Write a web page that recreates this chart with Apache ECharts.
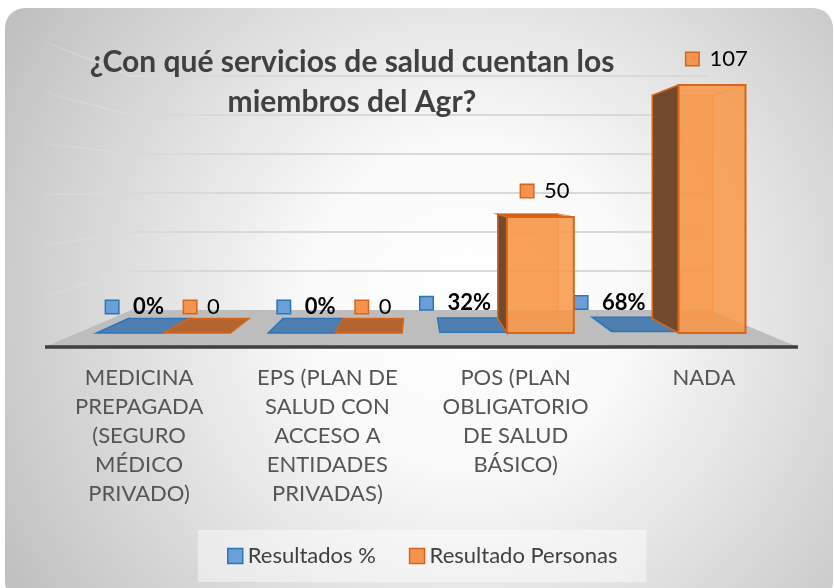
<!DOCTYPE html>
<html>
<head>
<meta charset="utf-8">
<script src="https://cdn.jsdelivr.net/npm/echarts@6/dist/echarts.min.js"></script>
<style>
  html, body { margin: 0; padding: 0; background: #fff; }
  #chart { width: 834px; height: 588px; }
</style>
</head>
<body>
<div id="chart"></div>
<script>
// data
var categories = [
  'MEDICINA\nPREPAGADA\n(SEGURO\nMÉDICO\nPRIVADO)',
  'EPS (PLAN DE\nSALUD CON\nACCESO A\nENTIDADES\nPRIVADAS)',
  'POS (PLAN\nOBLIGATORIO\nDE SALUD\nBÁSICO)',
  'NADA'
];
var resultadosPct = [0, 0, 0.32, 0.68];
var resultadoPersonas = [0, 0, 50, 107];
var gridValues = [0, 20, 40, 60, 80, 100, 120];

var FONT = 'Lato';

// fake 3d: everything is drawn in the front plane of the grid, then
// pulled towards a vanishing point by a depth factor
var K_WALL = 0.767, K_FRONT = 0.912, K_BACK = 0.821;

function vpOf(cs) {
  return [cs.x + cs.width * 0.4927, cs.y + cs.height * 0.479];
}
function proj(vp, p, k) {
  return [vp[0] + (p[0] - vp[0]) * k, vp[1] + (p[1] - vp[1]) * k];
}

function renderScene(params, api) {
  var cs = params.coordSys;
  var vp = vpOf(cs);
  var v = api.value(1);
  var y = api.coord([0, v])[1];
  var l = [cs.x, y], r = [cs.x + cs.width, y];
  var bl = proj(vp, l, K_WALL), br = proj(vp, r, K_WALL);
  var children = [];
  if (v === 0) {
    // floor
    children.push({ type: 'polygon', shape: { points: [l, r, br, bl] }, style: { fill: '#bdbdbd' } });
    children.push({ type: 'line', shape: { x1: l[0], y1: l[1], x2: r[0], y2: r[1] },
      style: { stroke: '#3f3f3f', lineWidth: 3.5 } });
  } else {
    children.push({ type: 'line', shape: { x1: l[0], y1: l[1], x2: bl[0], y2: bl[1] },
      style: { stroke: { type: 'linear', x: 0, y: 0, x2: 1, y2: 0, colorStops: [
        { offset: 0, color: 'rgba(225,225,225,0.2)' }, { offset: 1, color: '#dadada' }] }, lineWidth: 1.5 } });
    children.push({ type: 'line', shape: { x1: bl[0], y1: bl[1], x2: br[0], y2: br[1] },
      style: { stroke: '#d9d9d9', lineWidth: 2 } });
  }
  return { type: 'group', children: children };
}

function makeBox(opt) {
  return function (params, api) {
    var cs = params.coordSys;
    var vp = vpOf(cs);
    var i = api.value(0), v = api.value(1);
    var base = api.coord([i, 0]), top = api.coord([i, v]);
    var w = api.size([1, 0])[0] * 0.39;
    var x1 = base[0] + opt.side * w, x2 = x1 + w;
    function corners(k) {
      return {
        tl: proj(vp, [x1, top[1]], k), tr: proj(vp, [x2, top[1]], k),
        br: proj(vp, [x2, base[1]], k), bl: proj(vp, [x1, base[1]], k)
      };
    }
    var f = corners(K_FRONT), b = corners(K_BACK);
    var tall = base[1] - top[1] > 2;
    var children = [];

    if (tall) {
      children.push({ type: 'polygon', shape: { points: [b.tl, b.tr, b.br, b.bl] },
        style: { fill: opt.back, stroke: opt.inner, lineWidth: 1.2 } });
    }
    if (top[1] > vp[1]) {
      children.push({ type: 'polygon', shape: { points: [f.tl, f.tr, b.tr, b.tl] },
        style: { fill: opt.plate, stroke: opt.edge, lineWidth: 1.5 } });
    }
    if (tall && x1 > vp[0]) {
      children.push({ type: 'polygon', shape: { points: [f.tl, b.tl, b.bl, f.bl] },
        style: { fill: opt.dark, stroke: opt.edge, lineWidth: 1.5 } });
    }
    if (tall && x2 < vp[0]) {
      children.push({ type: 'polygon', shape: { points: [f.tr, b.tr, b.br, f.br] },
        style: { fill: opt.dark, stroke: opt.edge, lineWidth: 1.5 } });
    }
    if (tall) {
      children.push({ type: 'line', shape: { x1: b.tr[0], y1: b.tr[1], x2: f.tr[0], y2: f.tr[1] },
        style: { stroke: opt.inner, lineWidth: 1.2 } });
      children.push({ type: 'line', shape: { x1: b.br[0], y1: b.br[1], x2: f.br[0], y2: f.br[1] },
        style: { stroke: opt.inner, lineWidth: 1.2 } });
      children.push({ type: 'polygon', shape: { points: [f.tl, f.tr, f.br, f.bl] },
        style: { fill: opt.front, stroke: opt.edge, lineWidth: 2 } });
    }

    // data label with the little legend key in front
    var lx = (f.tl[0] + f.tr[0]) / 2 + 5, dy = 0;
    if (opt.side < 0 && resultadoPersonas[i] > 0) {
      // keep clear of the tall neighbour's dark side
      lx = Math.min(lx, proj(vp, [x2, base[1]], K_BACK)[0] - 42);
      dy = -3;
    }
    children.push({
      type: 'text', z2: 100,
      x: lx,
      y: f.tl[1] - 26 + dy,
      style: {
        text: '{sq|}{v|' + opt.fmt(v) + '}',
        align: 'center', verticalAlign: 'middle',
        rich: {
          sq: { width: 12, height: 12, backgroundColor: opt.key, borderColor: opt.edge, borderWidth: 1.5 },
          v: { fontFamily: FONT, fontSize: 22, color: '#404040', fontWeight: opt.bold ? 'bold' : 'normal',
               padding: [0, 0, 0, opt.bold ? 15 : 11] }
        }
      }
    });
    return { type: 'group', children: children };
  };
}

var myChart = echarts.init(document.getElementById('chart'));

var option = {
  backgroundColor: '#ffffff',
  animation: false,
  graphic: [{
    type: 'rect', z: -10, silent: true,
    shape: { x: 5, y: 8, width: 828, height: 594, r: 20 },
    style: { fill: { type: 'radial', x: 0.56, y: 0.5, r: 0.9, colorStops: [
      { offset: 0, color: '#ffffff' },
      { offset: 0.3, color: '#fafafa' },
      { offset: 1, color: '#c0c0c0' }] } }
  }],
  title: {
    text: '¿Con qué servicios de salud cuentan los\nmiembros del Agr?',
    left: 347, top: 37, textAlign: 'center',
    textStyle: { fontFamily: FONT, fontWeight: 'bold', fontSize: 30, lineHeight: 40, color: '#404040' }
  },
  legend: {
    left: 198, top: 530,
    padding: [15, 29],
    itemWidth: 15, itemHeight: 15, itemGap: 33,
    backgroundColor: 'rgba(255,255,255,0.45)',
    textStyle: { fontFamily: FONT, fontSize: 22, color: '#404040' },
    data: [
      { name: 'Resultados %', icon: 'rect', itemStyle: { color: '#6a9fd8', borderColor: '#2e75b6', borderWidth: 1.5 } },
      { name: 'Resultado Personas', icon: 'rect', itemStyle: { color: '#f4944f', borderColor: '#d5661c', borderWidth: 1.5 } }
    ]
  },
  grid: { left: 45, right: 36, top: 42, bottom: 241, outerBoundsMode: 'none' },
  xAxis: {
    type: 'category',
    data: categories,
    axisLine: { show: false },
    axisTick: { show: false },
    axisLabel: { interval: 0, margin: 16, fontFamily: FONT, fontSize: 22, lineHeight: 29, color: '#555555' }
  },
  yAxis: { type: 'value', min: 0, max: 120, show: false },
  series: [
    {
      name: 'grid', type: 'custom', silent: true, z: 1,
      data: gridValues.map(function (v) { return [0, v]; }),
      encode: { x: 0, y: 1 },
      renderItem: renderScene
    },
    {
      name: 'Resultados %', type: 'custom', z: 3, clip: false,
      itemStyle: { color: '#6a9fd8' },
      data: resultadosPct.map(function (v, i) { return [i, v]; }),
      encode: { x: 0, y: 1 },
      renderItem: makeBox({
        side: -1, bold: true,
        front: 'rgba(91,155,213,0.85)', back: 'rgba(91,155,213,0.35)', plate: '#4f7fb0',
        dark: '#2f5f8f', edge: '#2e75b6', inner: '#7fb0e0', key: '#6a9fd8',
        fmt: function (v) { return Math.round(v * 100) + '%'; }
      })
    },
    {
      name: 'Resultado Personas', type: 'custom', z: 4, clip: false,
      itemStyle: { color: '#f4944f' },
      data: resultadoPersonas.map(function (v, i) { return [i, v]; }),
      encode: { x: 0, y: 1 },
      renderItem: makeBox({
        side: 0, bold: false,
        front: 'rgba(247,150,70,0.85)', back: 'rgba(247,150,70,0.35)', plate: '#b4652f',
        dark: '#734a2c', edge: '#d5661c', inner: '#f7a05e', key: '#f4944f',
        fmt: function (v) { return String(v); }
      })
    }
  ]
};

myChart.setOption(option);
</script>
</body>
</html>
